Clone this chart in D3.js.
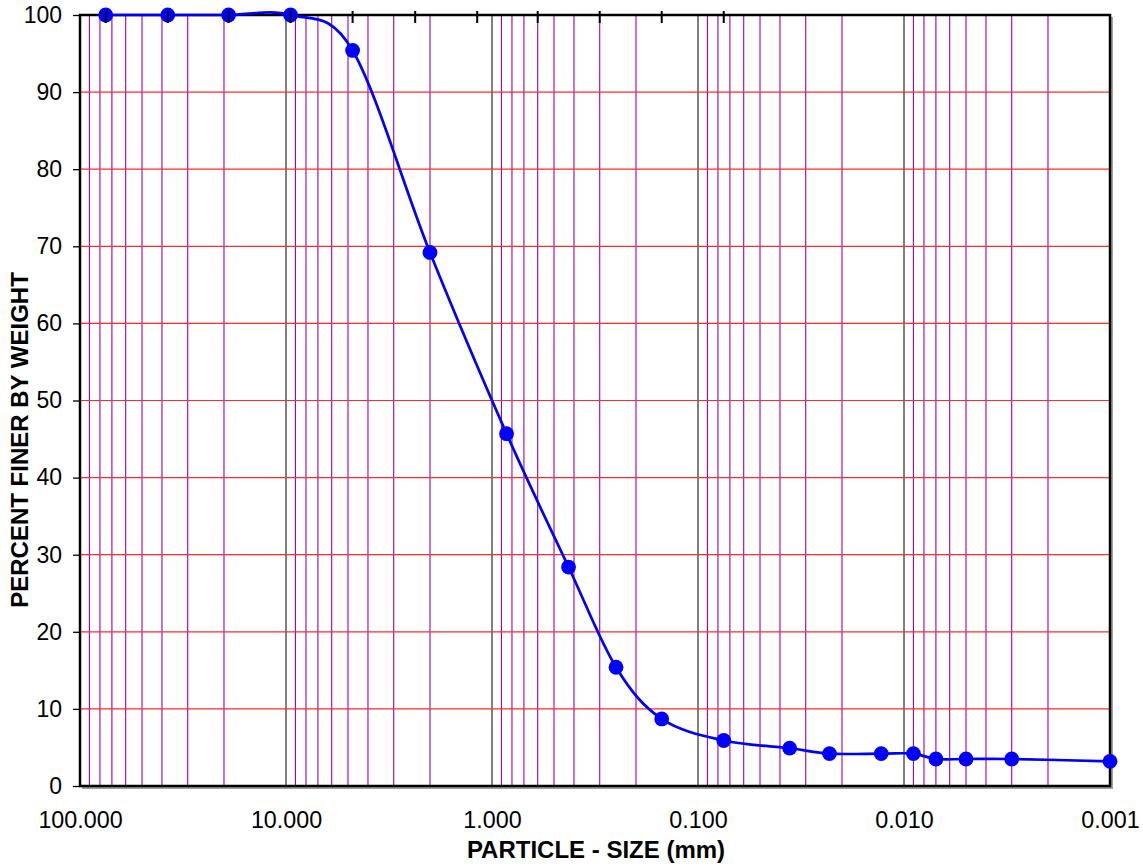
<!DOCTYPE html>
<html>
<head>
<meta charset="utf-8">
<script src="https://cdn.jsdelivr.net/npm/d3@7"></script>
<style>
  html, body { margin: 0; padding: 0; background: #fff; }
  svg { display: block; }
  text { font-family: "Liberation Sans", Arial, sans-serif; }
</style>
</head>
<body>
<svg id="chart" width="1143" height="867"></svg>
<script>
// ---- data ----
const particleSize = [75, 37.5, 19, 9.5, 4.75, 2.0, 0.85, 0.425, 0.25, 0.15, 0.075,
                      0.0359, 0.0230, 0.0129, 0.0090, 0.0070, 0.0050, 0.0030, 0.0010];
const percentFiner = [100, 100, 100, 100, 95.4, 69.2, 45.7, 28.4, 15.4, 8.7, 5.9,
                      4.9, 4.2, 4.2, 4.2, 3.5, 3.5, 3.5, 3.2];
const sieveSizes = [75, 37.5, 19, 9.5, 4.75, 2.36, 1.18, 0.6, 0.3, 0.15, 0.075];
const xTickValues = [100, 10, 1, 0.1, 0.01, 0.001];
const yTickValues = [0, 10, 20, 30, 40, 50, 60, 70, 80, 90, 100];
const xTitle = "PARTICLE - SIZE (mm)";
const yTitle = "PERCENT FINER BY WEIGHT";

// ---- layout ----
const L = 80, R = 1110, T = 15, B = 786;
const svg = d3.select("#chart");
const x = d3.scaleLog().domain([100, 0.001]).range([L, R]);
const y = d3.scaleLinear().domain([0, 100]).range([B, T]);

// vertical minor gridlines
const minor = [];
for (let e = -3; e <= 1; e++) {
  for (let k = 2; k <= 9; k++) minor.push(k * Math.pow(10, e));
}
svg.append("g").selectAll("line")
  .data(minor)
  .join("line")
  .attr("x1", d => x(d)).attr("x2", d => x(d))
  .attr("y1", T).attr("y2", B)
  .attr("stroke", "#a000a0").attr("stroke-width", 1.1);

// decade lines
svg.append("g").selectAll("line")
  .data(xTickValues.filter(v => v < 100 && v > 0.001))
  .join("line")
  .attr("x1", d => x(d)).attr("x2", d => x(d))
  .attr("y1", T).attr("y2", B)
  .attr("stroke", "#000").attr("stroke-width", 1);

// horizontal gridlines (drawn over vertical ones)
svg.append("g").selectAll("line")
  .data(yTickValues.filter(v => v > 0 && v < 100))
  .join("line")
  .attr("x1", L).attr("x2", R)
  .attr("y1", d => y(d)).attr("y2", d => y(d))
  .attr("stroke", "#ff2a2a").attr("stroke-width", 1.2);

// plot border with shadow
svg.append("polyline")
  .attr("points", `${R + 2},${T + 2} ${R + 2},${B + 2} ${L + 2},${B + 2}`)
  .attr("fill", "none").attr("stroke", "#a0a0a0").attr("stroke-width", 2);
svg.append("rect")
  .attr("x", L).attr("y", T).attr("width", R - L).attr("height", B - T)
  .attr("fill", "none").attr("stroke", "#000").attr("stroke-width", 2.5);

// sieve ticks at top
svg.append("g").selectAll("line")
  .data(sieveSizes)
  .join("line")
  .attr("x1", d => x(d)).attr("x2", d => x(d))
  .attr("y1", T - 4).attr("y2", T + 8)
  .attr("stroke", "#000").attr("stroke-width", 2);

// y axis
const yAxis = svg.append("g")
  .attr("transform", `translate(${L},0)`)
  .call(d3.axisLeft(y).tickValues(yTickValues).tickSize(7).tickPadding(11).tickFormat(d3.format("d")));
yAxis.select(".domain").remove();
yAxis.selectAll("line").attr("stroke", "#000").attr("stroke-width", 1.3);
yAxis.selectAll("text").attr("font-size", 23).attr("fill", "#000")
  .attr("font-family", "'Liberation Sans', Arial, sans-serif");

// x axis labels
const xAxis = svg.append("g")
  .attr("transform", `translate(0,${B})`)
  .call(d3.axisBottom(x).tickValues(xTickValues).tickSize(0).tickPadding(25).tickFormat(d3.format(".3f")));
xAxis.select(".domain").remove();
xAxis.selectAll("text").attr("font-size", 23.3).attr("fill", "#000")
  .attr("font-family", "'Liberation Sans', Arial, sans-serif");

// curve
const pts = particleSize.map((s, i) => [x(s), y(percentFiner[i])]);
svg.append("path")
  .attr("d", d3.line().curve(d3.curveCardinal.tension(0))(pts))
  .attr("fill", "none").attr("stroke", "#0000ff").attr("stroke-width", 2.7);

// points
svg.append("g").selectAll("circle")
  .data(pts)
  .join("circle")
  .attr("cx", d => d[0]).attr("cy", d => d[1]).attr("r", 7.4)
  .attr("fill", "#0000ff");

// redraw sieve ticks over markers at top
svg.append("g").selectAll("line")
  .data(sieveSizes.slice(0, 4))
  .join("line")
  .attr("x1", d => x(d)).attr("x2", d => x(d))
  .attr("y1", T - 4).attr("y2", T + 8)
  .attr("stroke", "#000").attr("stroke-width", 2);

// titles
svg.append("text")
  .attr("x", 596).attr("y", 858)
  .attr("text-anchor", "middle")
  .attr("font-size", 24).attr("font-weight", "bold")
  .text(xTitle);
svg.append("text")
  .attr("transform", "translate(28,440) rotate(-90)")
  .attr("text-anchor", "middle")
  .attr("font-size", 24).attr("font-weight", "bold")
  .text(yTitle);
</script>
</body>
</html>
